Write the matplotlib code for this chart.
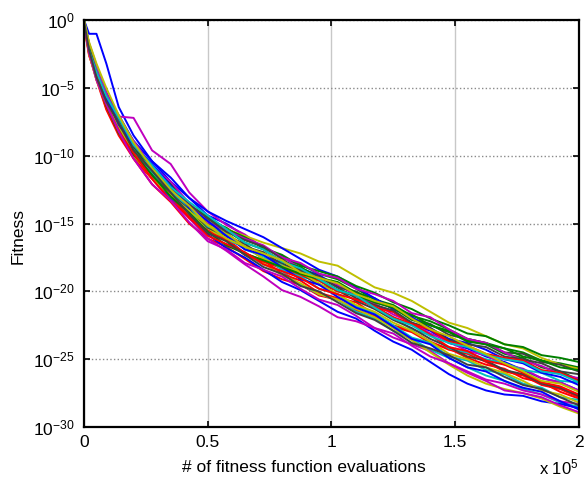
import matplotlib
matplotlib.use('Agg')
import matplotlib.pyplot as plt
import numpy as np

plt.rcParams['font.family'] = ['Liberation Sans', 'DejaVu Sans']
plt.rcParams['mathtext.fontset'] = 'custom'
plt.rcParams['mathtext.rm'] = 'Liberation Sans'
plt.rcParams['mathtext.it'] = 'Liberation Sans:italic'

#  Number of fitness function evaluations (sample points of every run)
evaluations = [0, 2000, 5000, 9000, 14000, 20000, 27500, 35000, 42500, 50000,
               57500, 65000, 72500, 80000, 87500, 95000, 102500, 110000, 117500, 125000,
               132500, 140000, 147500, 155000, 162500, 170000, 177500, 185000, 192500, 200000]

#  log10 of the best fitness of every run
run_01 = [0, -1.0, -1.0, -3.2, -6.4, -8.5, -10.4, -11.9, -13.1, -14.4, -15.0, -15.9, -16.8, -17.4, -18.3,
          -18.8, -19.6, -20.1, -21.0, -21.5, -22.4, -22.9, -23.8, -24.2, -24.8, -25.2, -25.8, -26.4, -26.7, -27.3]
run_02 = [-0.2, -2.2, -4.1, -5.9, -7.9, -9.6, -11.1, -12.2, -13.7, -14.7, -15.3, -16.2, -16.7, -17.5, -18.0,
          -18.7, -19.1, -19.8, -20.6, -21.0, -21.8, -22.2, -22.8, -23.5, -23.8, -24.2, -24.5, -25.1, -25.3, -25.6]
run_03 = [-0.3, -2.5, -4.4, -6.6, -8.5, -10.2, -12.1, -13.4, -15.0, -16.1, -16.7, -17.6, -18.5, -19.1, -19.5,
          -20.3, -20.6, -21.4, -21.8, -22.6, -23.0, -23.8, -24.2, -24.9, -25.4, -25.7, -26.4, -26.7, -27.4, -27.9]
run_04 = [0, -1.8, -3.5, -5.7, -7.4, -9.4, -11.3, -12.6, -14.2, -15.5, -16.1, -17.2, -18.0, -18.5, -19.5,
          -20.2, -20.6, -21.5, -22.0, -22.9, -23.5, -24.3, -24.9, -25.6, -26.2, -26.6, -27.2, -27.6, -28.2, -28.5]
run_05 = [0, -1.7, -3.4, -5.3, -7.1, -7.2, -9.6, -10.6, -12.7, -14.1, -15.1, -15.8, -16.8, -17.4, -18.3,
          -19.0, -19.5, -20.3, -20.9, -21.7, -22.3, -23.1, -23.7, -24.4, -24.7, -25.4, -25.7, -26.4, -26.7, -27.3]
run_06 = [-0.2, -2.3, -3.9, -6.2, -7.8, -9.7, -11.2, -12.5, -13.7, -14.8, -15.4, -15.9, -16.4, -16.8, -17.2,
          -17.8, -18.1, -18.9, -19.7, -20.1, -20.7, -21.5, -22.3, -22.7, -23.3, -23.9, -24.2, -24.9, -25.4, -25.7]
run_07 = [0, -2.0, -4.0, -5.8, -7.5, -9.1, -10.9, -12.1, -13.6, -15.0, -15.7, -16.7, -17.1, -18.0, -18.4,
          -18.9, -19.7, -20.0, -20.8, -21.2, -22.0, -22.4, -23.2, -23.5, -23.8, -24.5, -24.6, -25.2, -25.4, -25.9]
run_08 = [-0.1, -2.3, -4.0, -6.2, -7.9, -9.9, -11.5, -13.1, -14.4, -15.8, -16.8, -17.5, -18.4, -19.3, -19.9,
          -20.7, -21.5, -22.0, -22.9, -23.7, -24.3, -25.2, -26.1, -26.8, -27.3, -27.6, -27.7, -28.1, -28.3, -28.6]
run_09 = [-0.1, -1.9, -3.8, -5.6, -7.6, -9.3, -11.2, -12.4, -13.9, -14.9, -15.5, -16.4, -16.9, -17.8, -18.2,
          -19.0, -19.3, -20.1, -20.5, -21.3, -21.7, -22.5, -22.9, -23.6, -23.9, -24.6, -24.9, -25.6, -25.9, -26.5]
run_10 = [0, -2.1, -4.1, -6.0, -8.0, -9.7, -11.6, -12.8, -14.5, -15.5, -16.1, -17.2, -17.7, -18.7, -19.2,
          -20.1, -20.5, -20.8, -21.7, -22.5, -22.9, -23.7, -24.3, -24.6, -25.2, -25.9, -26.2, -26.9, -27.2, -27.8]
run_11 = [-0.2, -2.4, -4.3, -6.1, -8.2, -9.8, -11.3, -13.0, -14.2, -15.2, -16.2, -16.7, -17.6, -18.0, -18.9,
          -19.2, -20.0, -20.3, -21.2, -21.9, -22.8, -23.2, -24.2, -24.5, -25.0, -25.3, -25.8, -26.0, -26.6, -26.7]
run_12 = [0, -2.2, -4.2, -6.1, -8.1, -10.1, -11.7, -13.3, -14.6, -16.1, -17.0, -18.0, -18.9, -19.9, -20.4,
          -21.1, -21.9, -22.2, -22.7, -23.4, -23.9, -24.4, -25.3, -25.9, -26.5, -26.8, -27.3, -27.6, -28.1, -28.3]
run_13 = [-0.1, -2.3, -4.2, -6.4, -8.1, -10.1, -11.6, -12.8, -14.3, -15.3, -16.3, -17.3, -17.9, -18.8, -19.4,
          -20.2, -20.6, -21.3, -21.9, -22.7, -23.6, -24.5, -25.4, -26.2, -26.8, -27.2, -27.5, -27.9, -28.5, -29.0]
run_14 = [-0.2, -2.1, -4.1, -6.3, -8.0, -9.6, -11.5, -12.7, -13.9, -15.3, -15.9, -16.5, -17.4, -17.9, -18.7,
          -19.5, -19.9, -20.7, -21.3, -22.1, -22.7, -23.5, -24.1, -24.8, -25.1, -25.8, -26.1, -26.8, -27.1, -27.7]
run_15 = [0, -1.9, -3.5, -5.4, -7.0, -8.9, -10.4, -11.6, -13.1, -14.1, -14.8, -15.4, -16.0, -16.8, -17.6,
          -18.4, -18.9, -19.7, -20.5, -21.3, -21.9, -22.7, -23.5, -23.8, -24.3, -25.0, -25.3, -26.0, -26.3, -26.9]
run_16 = [0, -1.8, -3.7, -5.5, -7.4, -9.0, -10.9, -12.0, -13.6, -14.5, -15.4, -16.0, -16.8, -17.3, -18.1,
          -18.5, -18.9, -19.6, -20.1, -20.8, -21.3, -22.0, -22.5, -23.1, -23.3, -23.9, -24.1, -24.7, -24.9, -25.2]
run_17 = [-0.4, -2.6, -4.2, -6.5, -8.1, -10.2, -11.7, -12.9, -14.6, -15.6, -16.2, -17.3, -17.8, -18.3, -18.8,
          -19.2, -20.0, -20.3, -21.2, -21.5, -22.4, -23.2, -24.1, -24.4, -25.1, -25.4, -26.0, -26.7, -27.0, -27.6]
run_18 = [0, -1.7, -3.3, -5.5, -7.5, -9.1, -11.0, -12.6, -13.8, -15.2, -15.8, -16.9, -17.4, -18.4, -18.9,
          -19.8, -20.2, -21.1, -21.6, -22.5, -23.4, -23.8, -24.8, -25.1, -25.8, -26.1, -26.8, -27.1, -27.8, -28.0]
run_19 = [-0.1, -2.0, -3.6, -5.4, -7.3, -8.9, -10.8, -11.9, -13.5, -14.9, -15.5, -16.1, -16.6, -17.5, -17.9,
          -18.7, -19.0, -19.8, -20.2, -20.7, -21.6, -21.9, -22.8, -23.5, -23.8, -24.5, -25.1, -25.5, -26.1, -26.4]
run_20 = [-0.3, -2.5, -4.4, -6.2, -7.8, -9.8, -11.7, -12.9, -14.1, -15.1, -15.7, -16.7, -17.6, -18.1, -18.6,
          -19.4, -20.2, -21.0, -21.5, -22.3, -22.9, -23.7, -24.6, -25.0, -25.6, -26.0, -26.6, -27.3, -27.6, -28.2]
run_21 = [0, -1.9, -3.9, -5.7, -7.3, -9.3, -10.8, -12.4, -13.6, -14.6, -15.6, -16.2, -16.7, -17.6, -18.5,
          -18.9, -19.7, -20.5, -21.0, -21.4, -22.3, -22.7, -23.6, -23.9, -24.1, -24.8, -25.0, -25.3, -25.9, -26.1]
run_22 = [-0.2, -2.3, -3.9, -5.7, -7.7, -9.2, -10.6, -12.2, -13.8, -14.8, -15.9, -16.9, -17.3, -18.2, -19.1,
          -19.5, -20.4, -21.2, -21.7, -22.6, -23.5, -23.9, -24.9, -25.6, -25.9, -26.6, -27.1, -27.4, -28.1, -28.7]
run_23 = [-0.3, -2.1, -4.1, -6.3, -8.3, -9.9, -11.4, -13.0, -14.2, -15.6, -16.6, -17.2, -17.7, -18.2, -18.7,
          -19.1, -19.9, -20.3, -20.8, -21.2, -22.1, -22.5, -23.0, -23.7, -23.9, -24.2, -24.8, -25.1, -25.6, -25.8]
run_24 = [-0.1, -2.4, -4.0, -6.2, -8.2, -9.8, -11.7, -13.3, -14.5, -15.9, -16.5, -17.1, -18.0, -18.5, -19.0,
          -19.8, -20.2, -20.6, -21.1, -21.9, -22.4, -22.8, -23.7, -24.0, -24.6, -24.9, -25.1, -25.8, -26.0, -26.6]
run_25 = [0, -2.2, -3.8, -5.6, -7.2, -9.2, -10.7, -12.3, -13.4, -14.4, -15.4, -16.4, -16.9, -17.8, -18.3,
          -19.1, -19.9, -20.3, -21.2, -22.0, -22.5, -23.3, -23.8, -24.1, -24.7, -25.0, -25.2, -25.9, -26.1, -26.7]
run_26 = [-0.2, -2.4, -4.4, -6.2, -8.2, -10.2, -12.1, -13.3, -14.9, -16.3, -16.9, -17.9, -18.4, -18.9, -19.8,
          -20.6, -21.0, -21.8, -22.7, -23.1, -24.0, -24.8, -25.3, -26.0, -26.6, -27.3, -27.5, -27.8, -28.4, -28.9]
run_27 = [0, -1.6, -3.2, -5.0, -7.0, -9.0, -10.9, -12.5, -13.7, -15.1, -16.1, -16.7, -17.2, -17.7, -18.6,
          -19.0, -19.4, -20.2, -20.7, -21.1, -22.0, -22.8, -23.3, -24.0, -24.6, -25.3, -25.9, -26.6, -26.8, -27.4]
run_28 = [-0.1, -2.2, -4.2, -6.0, -7.6, -9.6, -11.1, -12.7, -14.3, -15.7, -16.3, -17.3, -18.2, -18.7, -19.6,
          -20.0, -20.8, -21.6, -22.1, -22.9, -23.8, -24.2, -24.7, -25.4, -25.6, -26.3, -26.9, -27.2, -27.8, -28.4]

runs = [run_01, run_02, run_03, run_04, run_05, run_06, run_07,
        run_08, run_09, run_10, run_11, run_12, run_13, run_14,
        run_15, run_16, run_17, run_18, run_19, run_20, run_21,
        run_22, run_23, run_24, run_25, run_26, run_27, run_28]

x_ticks = [0, 50000, 100000, 150000, 200000]
x_tick_labels = ['0', '0.5', '1', '1.5', '2']
y_exponents = [0, -5, -10, -15, -20, -25, -30]

#  Old MATLAB line colour order
matlab_colors = [(0, 0, 1), (0, 0.5, 0), (1, 0, 0), (0, 0.75, 0.75),
                 (0.75, 0, 0.75), (0.75, 0.75, 0), (0.25, 0.25, 0.25)]


def convergence_plot(size_x=5.84, size_y=4.82):
    fig, axs = plt.subplots(figsize=(size_x, size_y), dpi=100)
    fig.subplots_adjust(left=0.144, right=0.991, bottom=0.114, top=0.958)
    #  Grid like MATLAB 'grid on'
    axs.grid(axis='x', color='#c8c8c8', linestyle='-', linewidth=1.0)
    axs.grid(axis='y', color='#8a8a8a', linestyle=':', linewidth=1.0)
    axs.set_axisbelow(True)
    color_counter = 0
    for run in runs:
        axs.semilogy(evaluations, 10.0 ** np.array(run),
                     color=matlab_colors[color_counter % len(matlab_colors)],
                     linewidth=1.4)
        color_counter = color_counter + 1
    axs.set_xlim(0, 200000)
    axs.set_ylim(1e-30, 1e0)
    axs.set_xticks(x_ticks)
    axs.set_xticklabels(x_tick_labels)
    axs.set_yticks([10.0 ** e for e in y_exponents])
    axs.set_yticklabels([r'$\mathregular{10^{%d}}$' % e for e in y_exponents])
    axs.yaxis.set_minor_locator(matplotlib.ticker.NullLocator())
    axs.tick_params(axis='both', which='major', direction='in', length=4, width=1.2,
                    top=True, right=True, labelsize=12.5, colors='black')
    axs.tick_params(axis='y', pad=7)
    axs.tick_params(axis='x', pad=6)
    for spine in axs.spines.values():
        spine.set_linewidth(1.6)
    axs.set_xlabel('# of fitness function evaluations', fontsize=12.5)
    axs.xaxis.set_label_coords(0.445, -0.082)
    axs.set_ylabel('Fitness', fontsize=12.5)
    axs.yaxis.set_label_coords(-0.118, 0.47)
    axs.text(1.0, -0.1, r'x $\mathregular{10^{5}}$', transform=axs.transAxes,
             ha='right', va='center', fontsize=12)
    return fig


fig = convergence_plot()
fig.savefig('out.png', dpi=100)
